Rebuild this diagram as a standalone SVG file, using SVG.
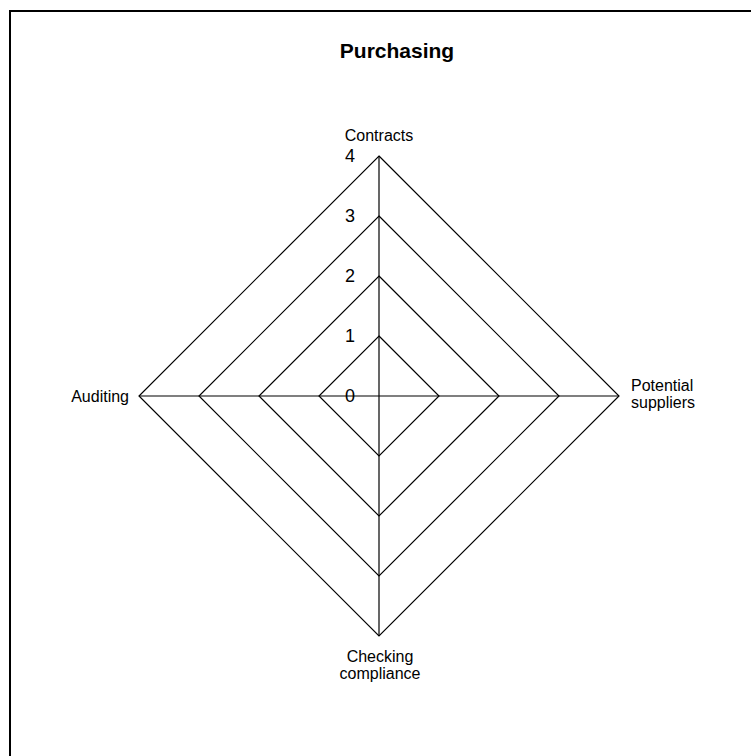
<svg xmlns="http://www.w3.org/2000/svg" width="751" height="756" viewBox="0 0 751 756">
  <style>
    .grid { fill: none; stroke: #000; stroke-width: 1.2; }
    .axis { stroke: #000; stroke-width: 1.2; }
    .lbl { font-family: "Liberation Sans", Arial, sans-serif; font-size: 16px; fill: #000; }
    .num { font-family: "Liberation Sans", Arial, sans-serif; font-size: 18px; fill: #000; }
    .title { font-family: "Liberation Sans", Arial, sans-serif; font-size: 21px; font-weight: bold; fill: #000; }
  </style>
  <rect x="0" y="0" width="751" height="756" fill="#fff"/>
  <!-- frame, open to the right and bottom -->
  <rect x="10" y="11" width="800" height="800" fill="none" stroke="#000" stroke-width="2"/>

  <text class="title" x="397" y="58" text-anchor="middle">Purchasing</text>

  <!-- concentric level polygons -->
  <g id="levels">
    <polygon class="grid" points="379,336 439,396 379,456 319,396"/>
    <polygon class="grid" points="379,276 499,396 379,516 259,396"/>
    <polygon class="grid" points="379,216 559,396 379,576 199,396"/>
    <polygon class="grid" points="379,156 619,396 379,636 139,396"/>
  </g>

  <!-- spokes -->
  <g id="connectors">
    <line class="axis" x1="379" y1="156" x2="379" y2="636"/>
    <line class="axis" x1="139" y1="396" x2="619" y2="396"/>
  </g>

  <!-- scale values -->
  <g id="scale">
    <text class="num" x="345" y="402">0</text>
    <text class="num" x="345" y="342">1</text>
    <text class="num" x="345" y="282">2</text>
    <text class="num" x="345" y="222">3</text>
    <text class="num" x="345" y="162">4</text>
  </g>

  <g id="contracts">
    <text class="lbl" x="379" y="141" text-anchor="middle">Contracts</text>
  </g>
  <g id="potential-suppliers">
    <text class="lbl" x="631" y="391">Potential</text>
    <text class="lbl" x="631" y="408">suppliers</text>
  </g>
  <g id="checking-compliance">
    <text class="lbl" x="380" y="662" text-anchor="middle">Checking</text>
    <text class="lbl" x="380" y="679" text-anchor="middle">compliance</text>
  </g>
  <g id="auditing">
    <text class="lbl" x="129" y="402" text-anchor="end">Auditing</text>
  </g>
</svg>
